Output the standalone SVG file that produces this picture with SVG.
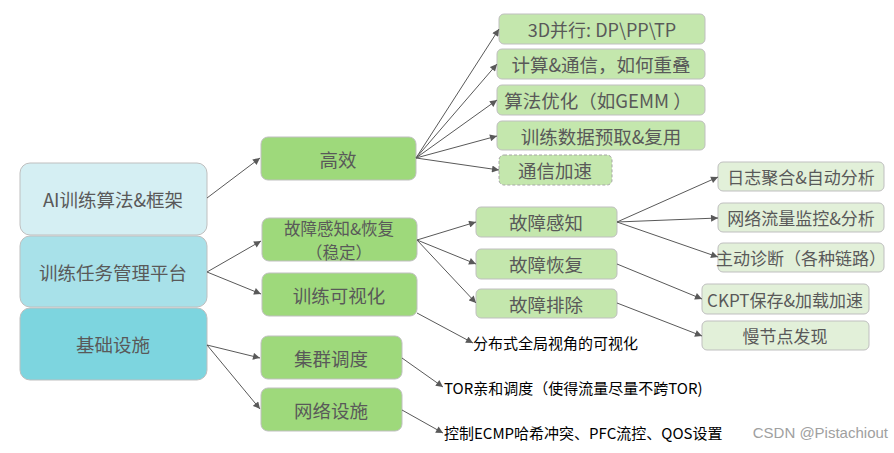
<svg xmlns="http://www.w3.org/2000/svg" width="894" height="453" viewBox="0 0 894 453">
<defs>
<marker id="ah" viewBox="0 0 10 10" refX="10" refY="5" markerWidth="8" markerHeight="7" markerUnits="userSpaceOnUse" orient="auto">
<path d="M0,0 L10,5 L0,10 z" fill="#595959"/>
</marker>
<style>
text{font-family:"Noto Sans CJK SC","Liberation Sans",sans-serif;}
.t{fill:#595959;text-anchor:middle;dominant-baseline:central;}
.k{fill:#000;dominant-baseline:central;font-size:15px;}
.b{stroke:#bfbfbf;stroke-width:1;}
.l2{fill:#9ed97b;}
.l3{fill:#c4e7ad;}
.l4{fill:#e2f0d9;}
.c line{stroke:#595959;stroke-width:1;marker-end:url(#ah);}
</style>
</defs>
<rect width="894" height="453" fill="#fff"/>
<g id="n-ai"><rect class="b" x="20" y="163" width="187" height="72" rx="10" fill="#d5eff3"/><text class="t" x="113" y="199" font-size="18.5">AI训练算法&amp;框架</text></g>
<g id="n-plat"><rect class="b" x="20" y="236" width="187" height="71" rx="10" fill="#a8e1e9"/><text class="t" x="113" y="272" font-size="18.5">训练任务管理平台</text></g>
<g id="n-infra"><rect class="b" x="20" y="308" width="187" height="72" rx="10" fill="#7dd5df"/><text class="t" x="113" y="344" font-size="18.5">基础设施</text></g>

<g id="n-eff"><rect class="b l2" x="261" y="137" width="155" height="43" rx="7"/><text class="t" x="338" y="159" font-size="18.5">高效</text></g>
<g id="n-fault"><rect class="b l2" x="262" y="218" width="155" height="43" rx="7"/><text class="t" x="339" y="227.5" font-size="16.5">故障感知&amp;恢复</text><text class="t" x="339" y="251.5" font-size="16.5">（稳定）</text></g>
<g id="n-vis"><rect class="b l2" x="262" y="273" width="155" height="43" rx="7"/><text class="t" x="339" y="295" font-size="18.5">训练可视化</text></g>
<g id="n-sched"><rect class="b l2" x="261" y="336" width="141" height="43" rx="7"/><text class="t" x="331" y="358" font-size="18.5">集群调度</text></g>
<g id="n-net"><rect class="b l2" x="261" y="388" width="141" height="43" rx="7"/><text class="t" x="331" y="410" font-size="18.5">网络设施</text></g>

<g id="n-3d"><rect class="b l3" x="499" y="14" width="206" height="30" rx="5"/><text class="t" x="602" y="29" font-size="18">3D并行: DP\PP\TP</text></g>
<g id="n-overlap"><rect class="b l3" x="497" y="49" width="208" height="30" rx="5"/><text class="t" x="601" y="64" font-size="18.5">计算&amp;通信，如何重叠</text></g>
<g id="n-algo"><rect class="b l3" x="497" y="85" width="208" height="30" rx="5"/><text class="t" x="598" y="100" font-size="18.5">算法优化（如GEMM ）</text></g>
<g id="n-data"><rect class="b l3" x="497" y="121" width="208" height="29" rx="5"/><text class="t" x="601" y="135.5" font-size="18.5">训练数据预取&amp;复用</text></g>
<g id="n-comm"><rect x="499" y="155" width="113" height="30" rx="5" fill="#c4e7ad" stroke="#a6a6a6" stroke-dasharray="3,2"/><text class="t" x="555" y="170" font-size="18.5">通信加速</text></g>

<g id="n-detect"><rect class="b l3" x="476" y="207" width="141" height="30" rx="5"/><text class="t" x="546" y="222" font-size="18.5">故障感知</text></g>
<g id="n-recover"><rect class="b l3" x="476" y="249" width="141" height="30" rx="5"/><text class="t" x="546" y="264" font-size="18.5">故障恢复</text></g>
<g id="n-debug"><rect class="b l3" x="476" y="289" width="141" height="29" rx="5"/><text class="t" x="546" y="303.5" font-size="18.5">故障排除</text></g>

<g id="n-log"><rect class="b l4" x="718" y="162" width="166" height="29" rx="5"/><text class="t" x="801" y="176.5" font-size="17">日志聚合&amp;自动分析</text></g>
<g id="n-flow"><rect class="b l4" x="718" y="203" width="166" height="29" rx="5"/><text class="t" x="801" y="217.5" font-size="17">网络流量监控&amp;分析</text></g>
<g id="n-diag"><rect class="b l4" x="718" y="243" width="166" height="29" rx="5"/><text class="t" x="801" y="257.5" font-size="17">主动诊断（各种链路）</text></g>
<g id="n-ckpt"><rect class="b l4" x="702" y="284" width="167" height="30" rx="5"/><text class="t" x="785" y="299" font-size="17">CKPT保存&amp;加载加速</text></g>
<g id="n-slow"><rect class="b l4" x="702" y="321" width="167" height="29" rx="5"/><text class="t" x="785" y="335.5" font-size="17">慢节点发现</text></g>

<g id="n-visnote"><text class="k" x="473" y="342">分布式全局视角的可视化</text></g>
<g id="n-tor"><text class="k" x="444" y="387">TOR亲和调度（使得流量尽量不跨TOR)</text></g>
<g id="n-ecmp"><text class="k" x="444" y="432">控制ECMP哈希冲突、PFC流控、QOS设置</text></g>

<g id="connectors" class="c">
<line x1="207" y1="198" x2="260" y2="158"/>
<line x1="207" y1="272" x2="261" y2="241"/>
<line x1="207" y1="272" x2="261" y2="294"/>
<line x1="207" y1="345" x2="260" y2="358"/>
<line x1="207" y1="345" x2="260" y2="409"/>
<line x1="416" y1="158" x2="499" y2="29"/>
<line x1="416" y1="158" x2="497" y2="64"/>
<line x1="416" y1="158" x2="497" y2="100"/>
<line x1="416" y1="158" x2="497" y2="136"/>
<line x1="416" y1="158" x2="499" y2="170"/>
<line x1="417" y1="240" x2="476" y2="222"/>
<line x1="417" y1="240" x2="476" y2="264"/>
<line x1="417" y1="240" x2="476" y2="303"/>
<line x1="417" y1="313" x2="473" y2="343"/>
<line x1="617" y1="222" x2="718" y2="177"/>
<line x1="617" y1="222" x2="718" y2="218"/>
<line x1="617" y1="222" x2="718" y2="257"/>
<line x1="617" y1="264" x2="702" y2="299"/>
<line x1="617" y1="303" x2="702" y2="336"/>
<line x1="402" y1="358" x2="443" y2="387"/>
<line x1="402" y1="410" x2="443" y2="433"/>
</g>
<text x="888" y="438" text-anchor="end" font-size="15" fill="#a0a0a0" style="font-family:'Liberation Sans','Noto Sans CJK SC',sans-serif">CSDN @Pistachiout</text>
</svg>
